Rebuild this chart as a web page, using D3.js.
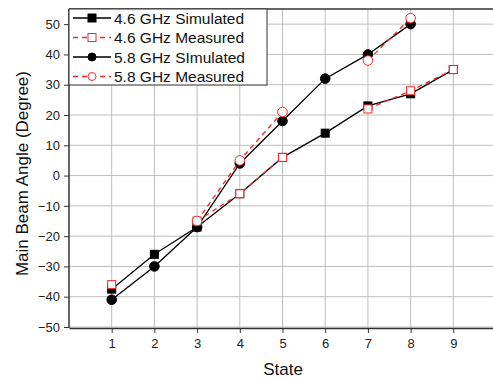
<!DOCTYPE html>
<html>
<head>
<meta charset="utf-8">
<script src="https://cdn.jsdelivr.net/npm/d3@7"></script>
<style>
  body { margin: 0; background: #fff; }
  text { font-family: "Liberation Sans", Arial, sans-serif; }
</style>
</head>
<body>
<div id="chart"></div>
<script>
const states = [1, 2, 3, 4, 5, 6, 7, 8, 9];
const yTicks = [-50, -40, -30, -20, -10, 0, 10, 20, 30, 40, 50];
const sim46 = [-37.5, -26, -17, -6, 6, 14, 23, 27, 35];
const meas46 = [-36, null, -15, -6, 6, null, 22, 28, 35];
const sim58 = [-41, -30, -17, 4, 18, 32, 40, 50, null];
const meas58 = [null, null, -15, 5, 21, null, 38, 52, null];
const seriesNames = ["4.6 GHz Simulated", "4.6 GHz Measured", "5.8 GHz SImulated", "5.8 GHz Measured"];

const W = 493, H = 380;
const margin = { left: 69, right: -3, top: 9, bottom: 52 };

const svg = d3.select("#chart").append("svg")
  .attr("width", W).attr("height", H);

const x = d3.scaleLinear().domain([0, 10]).range([margin.left, W - margin.right]);
const y = d3.scaleLinear().domain([-50, 55]).range([H - margin.bottom - 1, margin.top]);
const bottomY = H - margin.bottom;

// grid
const grid = svg.append("g").attr("stroke", "#bdbdbd").attr("stroke-width", 1);
grid.selectAll("line.v").data(states).enter().append("line")
  .attr("x1", d => x(d)).attr("x2", d => x(d))
  .attr("y1", margin.top).attr("y2", bottomY);
grid.selectAll("line.h").data(yTicks).enter().append("line")
  .attr("x1", margin.left).attr("x2", W)
  .attr("y1", d => y(d)).attr("y2", d => y(d));

// frame
svg.append("line").attr("x1", margin.left).attr("x2", W)
  .attr("y1", margin.top).attr("y2", margin.top).attr("stroke", "#333").attr("stroke-width", 1.5);

// axes
const xAxis = svg.append("g").attr("transform", `translate(0,${bottomY})`)
  .call(d3.axisBottom(x).tickValues(states).tickSize(5).tickPadding(6).tickSizeOuter(0));
const yAxis = svg.append("g").attr("transform", `translate(${margin.left},0)`)
  .call(d3.axisLeft(y).tickValues(yTicks).tickSize(5).tickPadding(4).tickSizeOuter(0));
[xAxis, yAxis].forEach(g => {
  g.selectAll("text").attr("font-size", 13).attr("fill", "#222")
    .style("font-family", "'Liberation Sans', Arial, sans-serif");
  g.selectAll("line").attr("stroke", "#333");
  g.select(".domain").attr("stroke", "#333").attr("stroke-width", 1.5);
});
yAxis.select(".domain").attr("d", `M0,${bottomY}V${margin.top}`);

svg.append("text").attr("x", 283).attr("y", 375).attr("text-anchor", "middle")
  .attr("font-size", 17).attr("fill", "#111").text("State");
svg.append("text").attr("transform", `translate(28,${y(0) - 2}) rotate(-90)`)
  .attr("text-anchor", "middle").attr("font-size", 17).attr("fill", "#111")
  .text("Main Beam Angle (Degree)");

const line = d3.line()
  .defined(d => d[1] !== null)
  .x(d => x(d[0])).y(d => y(d[1]));

const pts = vals => states.map((s, i) => [s, vals[i]]);

function drawSeries(vals, opts) {
  const data = pts(vals);
  svg.append("path").datum(data).attr("d", line)
    .attr("fill", "none").attr("stroke", opts.color).attr("stroke-width", 1.3)
    .attr("stroke-dasharray", opts.dash || null);
  const m = svg.append("g");
  const d = data.filter(p => p[1] !== null);
  if (opts.shape === "square") {
    m.selectAll("rect").data(d).enter().append("rect")
      .attr("x", p => x(p[0]) - 4).attr("y", p => y(p[1]) - 4)
      .attr("width", 8).attr("height", 8)
      .attr("fill", opts.fill).attr("stroke", opts.color).attr("stroke-width", 1);
  } else {
    m.selectAll("circle").data(d).enter().append("circle")
      .attr("cx", p => x(p[0])).attr("cy", p => y(p[1])).attr("r", 4.8)
      .attr("fill", opts.fill).attr("stroke", opts.color).attr("stroke-width", 1);
  }
}

const styles = [
  { color: "#000", fill: "#000", shape: "square" },
  { color: "#f0282d", fill: "#fff", shape: "square", dash: "5,4" },
  { color: "#000", fill: "#000", shape: "circle" },
  { color: "#f0282d", fill: "#fff", shape: "circle", dash: "5,4" }
];

drawSeries(sim46, styles[0]);
drawSeries(sim58, styles[2]);
drawSeries(meas46, styles[1]);
drawSeries(meas58, styles[3]);

// legend
const lg = svg.append("g");
lg.append("rect").attr("x", margin.left).attr("y", margin.top)
  .attr("width", 198).attr("height", 76)
  .attr("fill", "#fff").attr("stroke", "#333").attr("stroke-width", 1);
seriesNames.forEach((name, i) => {
  const s = styles[i];
  const ly = 18 + i * 19.5;
  lg.append("line").attr("x1", 73).attr("x2", 111).attr("y1", ly).attr("y2", ly)
    .attr("stroke", s.color).attr("stroke-width", 1.3).attr("stroke-dasharray", s.dash || null);
  if (s.shape === "square") {
    lg.append("rect").attr("x", 92 - 4).attr("y", ly - 4).attr("width", 8).attr("height", 8)
      .attr("fill", s.fill).attr("stroke", s.color);
  } else {
    lg.append("circle").attr("cx", 92).attr("cy", ly).attr("r", 4)
      .attr("fill", s.fill).attr("stroke", s.color);
  }
  lg.append("text").attr("x", 114).attr("y", ly + 5.5).attr("font-size", 15.5)
    .attr("fill", "#111").text(name);
});
</script>
</body>
</html>
